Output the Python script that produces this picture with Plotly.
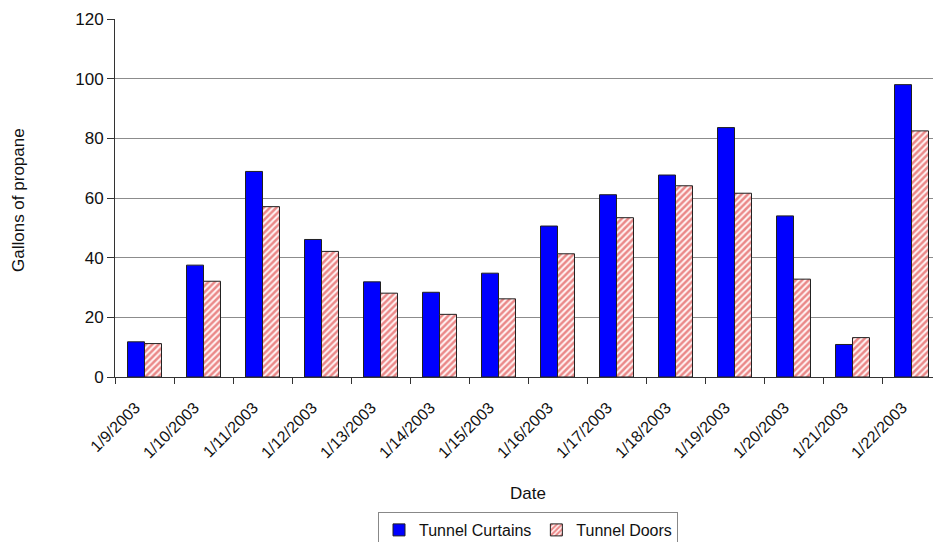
import plotly.graph_objects as go

dates = ["1/9/2003", "1/10/2003", "1/11/2003", "1/12/2003", "1/13/2003", "1/14/2003",
         "1/15/2003", "1/16/2003", "1/17/2003", "1/18/2003", "1/19/2003", "1/20/2003",
         "1/21/2003", "1/22/2003"]
tunnel_curtains = [11.8, 37.5, 68.9, 46.1, 31.9, 28.4, 34.8, 50.6, 61.1, 67.7, 83.6, 54.0, 10.9, 98.0]
tunnel_doors = [11.2, 32.1, 57.1, 42.1, 28.1, 21.0, 26.2, 41.3, 53.4, 64.1, 61.6, 32.8, 13.2, 82.5]
y_ticks = [0, 20, 40, 60, 80, 100, 120]

FONT = "Liberation Sans, Arial, sans-serif"
W, H = 933, 542
L, R, T, B = 115, 0, 19, 165
PLOT_W = W - L - R
PLOT_H = H - T - B
cat_px = 59.0
x_hi = -0.5 + PLOT_W / cat_px


def px_x(px):
    return (px - L) / PLOT_W


def px_y(py):
    return (H - B - py) / PLOT_H


fig = go.Figure()
fig.add_trace(go.Bar(
    x=dates, y=tunnel_curtains, name="Tunnel Curtains",
    marker=dict(color="#0000ff", line=dict(color="#202020", width=1)),
))
fig.add_trace(go.Bar(
    x=dates, y=tunnel_doors, name="Tunnel Doors",
    marker=dict(
        color="white",
        line=dict(color="#202020", width=1),
        pattern=dict(shape="/", fgcolor="#d61c1c", bgcolor="#fff4f4", size=4.5, solidity=0.55),
    ),
))

fig.update_layout(
    width=W, height=H,
    margin=dict(l=L, r=R, t=T, b=B, autoexpand=False),
    paper_bgcolor="white", plot_bgcolor="white",
    font=dict(family=FONT, color="#111111", size=16),
    barmode="group", bargap=0.424, bargroupgap=0.0,
    showlegend=True,
    legend=dict(
        orientation="h", x=px_x(528), xanchor="center",
        y=px_y(512), yanchor="top",
        bordercolor="#888888", borderwidth=1, bgcolor="white",
        font=dict(family=FONT, size=16, color="#111111"),
        itemwidth=30, tracegroupgap=0,
    ),
    xaxis=dict(
        type="category", range=[-0.5, x_hi], automargin=False,
        showline=True, linecolor="#333333", linewidth=1,
        ticks="outside", tickson="boundaries", ticklen=6, tickcolor="#333333",
        tickangle=-45, tickfont=dict(family=FONT, size=16),
        ticklabelstandoff=14, ticklabelshift=-9,
        showgrid=False, zeroline=False,
    ),
    yaxis=dict(
        range=[0, 120], tickvals=y_ticks, automargin=False,
        showline=True, linecolor="#333333", linewidth=1,
        ticks="outside", ticklen=7, tickcolor="#333333",
        tickfont=dict(family=FONT, size=17),
        showgrid=True, gridcolor="#8c8c8c", gridwidth=1.3,
        zeroline=False,
    ),
    annotations=[
        dict(text="Date", x=px_x(528), y=px_y(493), xref="paper", yref="paper",
             xanchor="center", yanchor="middle", showarrow=False,
             font=dict(family=FONT, size=17)),
        dict(text="Gallons of propane", x=px_x(18), y=px_y(200), xref="paper", yref="paper",
             xanchor="center", yanchor="middle", textangle=-90, showarrow=False,
             font=dict(family=FONT, size=17)),
    ],
)

fig.write_html("out.html")
